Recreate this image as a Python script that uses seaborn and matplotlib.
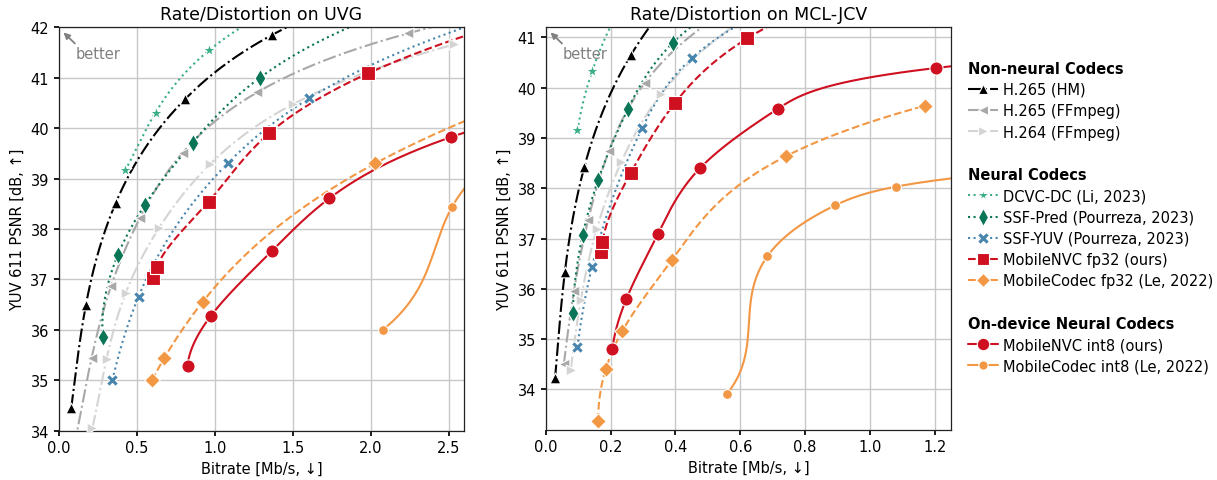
import numpy as np
import pandas as pd
import seaborn as sns
import matplotlib
matplotlib.use("Agg")
import matplotlib.pyplot as plt
from matplotlib.lines import Line2D

sns.set_theme(style="ticks", rc={"axes.grid": True, "grid.color": "#c8c8c8",
                                 "axes.edgecolor": "#222222", "axes.linewidth": 0.9,
                                 "text.color": "black", "axes.labelcolor": "black",
                                 "xtick.color": "black", "ytick.color": "black"})
plt.rcParams['font.family'] = ['DejaVu Sans']

# ---- UVG (bitrate Mb/s, PSNR dB) ----
uvg_hm_rate = [0.081, 0.175, 0.365, 0.809, 1.369, 2.30]
uvg_hm_psnr = [34.46, 36.50, 38.51, 40.57, 41.85, 43.0]
uvg_ff265_rate = [0.10, 0.211, 0.335, 0.521, 0.794, 1.273, 2.240, 3.3]
uvg_ff265_psnr = [33.7, 35.44, 36.86, 38.22, 39.51, 40.71, 41.88, 42.6]
uvg_ff264_rate = [0.216, 0.307, 0.431, 0.641, 0.969, 1.499, 2.535]
uvg_ff264_psnr = [34.05, 35.42, 36.74, 38.01, 39.28, 40.47, 41.66]
uvg_dcvc_rate = [0.427, 0.621, 0.963, 1.50]
uvg_dcvc_psnr = [39.16, 40.31, 41.54, 42.55]
uvg_ssfpred_rate = [0.282, 0.380, 0.553, 0.858, 1.290, 2.10]
uvg_ssfpred_psnr = [35.85, 37.49, 38.48, 39.71, 41.00, 42.30]
uvg_ssfyuv_rate = [0.344, 0.512, 1.083, 1.606, 2.65]
uvg_ssfyuv_psnr = [35.00, 36.66, 39.30, 40.59, 42.05]
uvg_nvc32_rate = [0.606, 0.628, 0.961, 1.350, 1.986, 3.10]
uvg_nvc32_psnr = [37.02, 37.25, 38.54, 39.90, 41.09, 42.30]
uvg_mc32_rate = [0.598, 0.677, 0.922, 2.029, 3.30]
uvg_mc32_psnr = [35.00, 35.44, 36.55, 39.30, 40.95]
uvg_nvc8_rate = [0.826, 0.974, 1.369, 1.736, 2.513, 3.60]
uvg_nvc8_psnr = [35.29, 36.27, 37.57, 38.61, 39.82, 40.70]
uvg_mc8_rate = [2.078, 2.522, 3.154, 3.912]
uvg_mc8_psnr = [36.00, 38.44, 40.00, 40.80]

# ---- MCL-JCV ----
mcl_hm_rate = [0.029, 0.059, 0.119, 0.262, 0.45]
mcl_hm_psnr = [34.23, 36.33, 38.42, 40.64, 42.2]
mcl_ff265_rate = [0.056, 0.087, 0.131, 0.195, 0.305, 0.55]
mcl_ff265_psnr = [34.50, 35.95, 37.37, 38.74, 40.09, 41.50]
mcl_ff264_rate = [0.077, 0.108, 0.157, 0.233, 0.356, 0.62]
mcl_ff264_psnr = [34.39, 35.77, 37.18, 38.52, 39.87, 41.40]
mcl_dcvc_rate = [0.098, 0.144, 0.23]
mcl_dcvc_psnr = [39.15, 40.34, 41.60]
mcl_ssfpred_rate = [0.083, 0.114, 0.162, 0.254, 0.392, 0.62]
mcl_ssfpred_psnr = [35.52, 37.07, 38.17, 39.58, 40.89, 41.90]
mcl_ssfyuv_rate = [0.098, 0.143, 0.297, 0.450, 0.70]
mcl_ssfyuv_psnr = [34.84, 36.44, 39.19, 40.58, 41.60]
mcl_nvc32_rate = [0.172, 0.175, 0.262, 0.398, 0.622, 0.95]
mcl_nvc32_psnr = [36.73, 36.93, 38.30, 39.69, 40.98, 41.95]
mcl_mc32_rate = [0.162, 0.185, 0.236, 0.390, 0.742, 1.169]
mcl_mc32_psnr = [33.38, 34.40, 35.16, 36.58, 38.64, 39.64]
mcl_nvc8_rate = [0.206, 0.249, 0.346, 0.476, 0.716, 1.203, 2.0]
mcl_nvc8_psnr = [34.81, 35.80, 37.09, 38.40, 39.58, 40.39, 40.80]
mcl_mc8_rate = [0.559, 0.684, 0.893, 1.079, 2.30]
mcl_mc8_psnr = [33.91, 36.65, 37.66, 38.03, 38.66]

RED = "#cf1020"
ORANGE = "#f29744"
# name, color, linestyle, marker, marker area
styles = [
    ("H.265 (HM)", "black", "-.", "^", 60),
    ("H.265 (FFmpeg)", "#a8a8a8", "-.", "<", 60),
    ("H.264 (FFmpeg)", "#d4d4d4", "-.", ">", 60),
    ("DCVC-DC (Li, 2023)", "#3aae88", ":", "*", 95),
    ("SSF-Pred (Pourreza, 2023)", "#0b7657", ":", "d", 85),
    ("SSF-YUV (Pourreza, 2023)", "#4986ad", ":", "X", 75),
    ("MobileNVC fp32 (ours)", RED, "--", "s", 90),
    ("MobileCodec fp32 (Le, 2022)", ORANGE, "--", "D", 62),
    ("MobileNVC int8 (ours)", RED, "-", "o", 90),
    ("MobileCodec int8 (Le, 2022)", ORANGE, "-", "o", 50),
]

uvg = [(uvg_hm_rate, uvg_hm_psnr), (uvg_ff265_rate, uvg_ff265_psnr), (uvg_ff264_rate, uvg_ff264_psnr),
       (uvg_dcvc_rate, uvg_dcvc_psnr), (uvg_ssfpred_rate, uvg_ssfpred_psnr), (uvg_ssfyuv_rate, uvg_ssfyuv_psnr),
       (uvg_nvc32_rate, uvg_nvc32_psnr), (uvg_mc32_rate, uvg_mc32_psnr), (uvg_nvc8_rate, uvg_nvc8_psnr),
       (uvg_mc8_rate, uvg_mc8_psnr)]
mcl = [(mcl_hm_rate, mcl_hm_psnr), (mcl_ff265_rate, mcl_ff265_psnr), (mcl_ff264_rate, mcl_ff264_psnr),
       (mcl_dcvc_rate, mcl_dcvc_psnr), (mcl_ssfpred_rate, mcl_ssfpred_psnr), (mcl_ssfyuv_rate, mcl_ssfyuv_psnr),
       (mcl_nvc32_rate, mcl_nvc32_psnr), (mcl_mc32_rate, mcl_mc32_psnr), (mcl_nvc8_rate, mcl_nvc8_psnr),
       (mcl_mc8_rate, mcl_mc8_psnr)]


def smooth(rate, psnr, n=300):
    # cubic spline (not-a-knot) of bitrate as a function of psnr
    y = np.asarray(psnr, float)
    x = np.asarray(rate, float)
    k = len(y)
    ys = np.linspace(y[0], y[-1], n)
    if k == 3:
        return np.polyval(np.polyfit(y, x, 2), ys), ys
    h = np.diff(y)
    A = np.zeros((k, k))
    b = np.zeros(k)
    for i in range(1, k - 1):
        A[i, i - 1] = h[i - 1]
        A[i, i] = 2 * (h[i - 1] + h[i])
        A[i, i + 1] = h[i]
        b[i] = 6 * ((x[i + 1] - x[i]) / h[i] - (x[i] - x[i - 1]) / h[i - 1])
    A[0, 0], A[0, 1], A[0, 2] = h[1], -(h[0] + h[1]), h[0]
    A[-1, -3], A[-1, -2], A[-1, -1] = h[-1], -(h[-2] + h[-1]), h[-2]
    M = np.linalg.solve(A, b)
    idx = np.clip(np.searchsorted(y, ys) - 1, 0, k - 2)
    y0, y1, hh = y[idx], y[idx + 1], h[idx]
    xs = (M[idx] * (y1 - ys) ** 3 / (6 * hh) + M[idx + 1] * (ys - y0) ** 3 / (6 * hh)
          + (x[idx] / hh - M[idx] * hh / 6) * (y1 - ys) + (x[idx + 1] / hh - M[idx + 1] * hh / 6) * (ys - y0))
    return xs, ys


def draw(ax, data):
    for (rate, psnr), (name, col, ls, mk, s) in zip(data, styles):
        xs, ys = smooth(rate, psnr)
        sns.lineplot(x=xs, y=ys, sort=False, estimator=None, ax=ax, color=col,
                     linestyle=ls, linewidth=1.5, legend=False)
        sns.scatterplot(x=rate, y=psnr, ax=ax, color=col, marker=mk, s=s,
                        edgecolor="white", linewidth=0.8, legend=False, zorder=3)
    ax.annotate("", xy=(0.007, 0.992), xytext=(0.045, 0.955), xycoords="axes fraction",
                arrowprops=dict(arrowstyle="-|>", color="#808080", lw=1.3, mutation_scale=9))
    ax.text(0.041, 0.935, "better", transform=ax.transAxes, color="#808080",
            fontsize=10.5, va="center", ha="left")
    ax.set_xlabel("Bitrate [Mb/s, \u2193]", fontsize=10.5)
    ax.set_ylabel("YUV 611 PSNR [dB, \u2191]", fontsize=10.5)
    ax.tick_params(labelsize=10.5, length=3.5)
    ax.grid(True, color="#c8c8c8", linewidth=1)


fig = plt.figure(figsize=(12.17, 4.81), dpi=100)
ax1 = fig.add_axes([0.0482, 0.1025, 0.3333, 0.8387])
ax2 = fig.add_axes([0.4484, 0.1046, 0.3330, 0.8366])

draw(ax1, uvg)
ax1.set_xlim(0, 2.6)
ax1.set_ylim(34, 42)
ax1.set_xticks([0.0, 0.5, 1.0, 1.5, 2.0, 2.5])
ax1.set_title("Rate/Distortion on UVG", fontsize=12.5)

draw(ax2, mcl)
ax2.set_xlim(0, 1.25)
ax2.set_ylim(33.2, 41.2)
ax2.set_xticks([0.0, 0.2, 0.4, 0.6, 0.8, 1.0, 1.2])
ax2.set_yticks([34, 35, 36, 37, 38, 39, 40, 41])
ax2.set_title("Rate/Distortion on MCL-JCV", fontsize=12.5)

# legend with section headers
def handle(i):
    name, col, ls, mk, s = styles[i]
    return Line2D([], [], color=col, linestyle=ls, marker=mk, markersize=np.sqrt(s) * 0.95,
                  markeredgecolor="white", markeredgewidth=0.8, linewidth=1.5)

blank = Line2D([], [], linestyle="none", marker=None)
rows = [("Non-neural Codecs", None), (None, 0), (None, 1), (None, 2), (" ", None),
        ("Neural Codecs", None), (None, 3), (None, 4), (None, 5), (None, 6), (None, 7), (" ", None),
        ("On-device Neural Codecs", None), (None, 8), (None, 9)]
handles, labels, headers = [], [], []
for j, (hdr, i) in enumerate(rows):
    if i is None:
        handles.append(blank)
        labels.append(hdr)
        if hdr.strip():
            headers.append(j)
    else:
        handles.append(handle(i))
        labels.append(styles[i][0])

leg_fs = 10.5
leg = fig.legend(handles, labels, loc="upper left", bbox_to_anchor=(0.7958, 0.8717),
                 frameon=False, fontsize=leg_fs, handlelength=2.0, handletextpad=0.4,
                 labelspacing=0.43, borderaxespad=0, borderpad=0)
shift = (2.0 + 0.4) * leg_fs * fig.dpi / 72
for j, t in enumerate(leg.get_texts()):
    if j in headers:
        t.set_fontweight("bold")
        t.set_x(-shift)

fig.savefig("out.png", dpi=100)
